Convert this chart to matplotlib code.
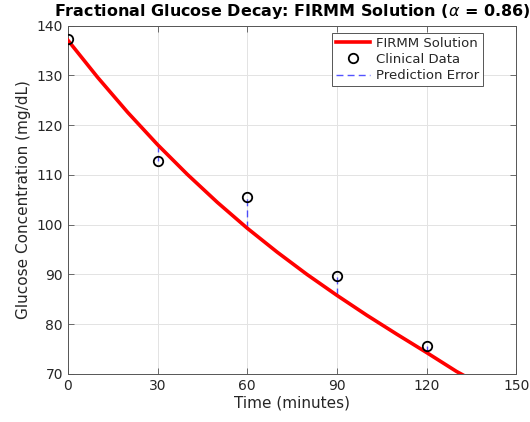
import numpy as np
import matplotlib
matplotlib.use('Agg')
import matplotlib.pyplot as plt

# clinical glucose measurements
t_data = [0, 30, 60, 90, 120]
g_data = [137.3, 112.8, 105.6, 89.6, 75.7]

# FIRMM model curve, every 10 min
t_model = [0, 10, 20, 30, 40, 50, 60, 70, 80, 90, 100, 110, 120, 130, 140, 150]
g_model = [137.1, 129.6, 122.6, 116.1, 110.1, 104.5, 99.3, 94.5, 90.0,
           85.8, 81.8, 78.0, 74.3, 70.5, 67.2, 64.0]

# model value at each clinical time point (for the error stems)
g_fit_at_data = [137.1, 116.1, 99.3, 85.8, 74.3]

xticks = [0, 30, 60, 90, 120, 150]
yticks = [70, 80, 90, 100, 110, 120, 130, 140]

plt.rcParams['font.family'] = 'DejaVu Sans'
txt = '#262626'

fig = plt.figure(figsize=(5.3, 4.22), dpi=100)
ax = fig.add_axes([0.128, 0.114, 0.846, 0.825])

ax.plot(t_model, g_model, color='red', linewidth=2.6, label='FIRMM Solution', zorder=3)
ax.plot(t_data, g_data, linestyle='', marker='o', markersize=6.8, markerfacecolor='none',
        markeredgecolor='black', markeredgewidth=1.3, label='Clinical Data', zorder=4)
for i, (t, g, gf) in enumerate(zip(t_data, g_data, g_fit_at_data)):
    ax.plot([t, t], [gf, g], color='#1a1aff', linestyle=(0, (5, 3)), linewidth=1.0,
            alpha=0.75, label='Prediction Error' if i == 0 else None, zorder=2)

ax.set_xlim(0, 150)
ax.set_ylim(70, 140)
ax.set_xticks(xticks)
ax.set_yticks(yticks)
ax.grid(True, color='#e3e3e3', linewidth=0.7)
ax.set_axisbelow(True)
ax.tick_params(direction='in', top=True, right=True, length=4, width=0.6,
               colors='#555555', labelcolor=txt, labelsize=10)
for s in ax.spines.values():
    s.set_color('#555555')
    s.set_linewidth(0.7)

ax.set_xlabel('Time (minutes)', fontsize=11, color=txt, labelpad=2)
ax.set_ylabel('Glucose Concentration (mg/dL)', fontsize=11, color=txt, labelpad=4)
ax.set_title(r'Fractional Glucose Decay: FIRMM Solution ($\alpha$ = 0.86)',
             fontsize=11.5, fontweight='bold', pad=7)

leg = ax.legend(loc='upper right', bbox_to_anchor=(0.925, 0.98), fontsize=9.5,
                fancybox=False, framealpha=1, edgecolor='#555555', borderpad=0.3,
                labelspacing=0.25, handlelength=2.6, handletextpad=0.4, borderaxespad=0)
leg.get_frame().set_linewidth(0.7)
for t in leg.get_texts():
    t.set_color(txt)

fig.savefig('out.png', dpi=100)
